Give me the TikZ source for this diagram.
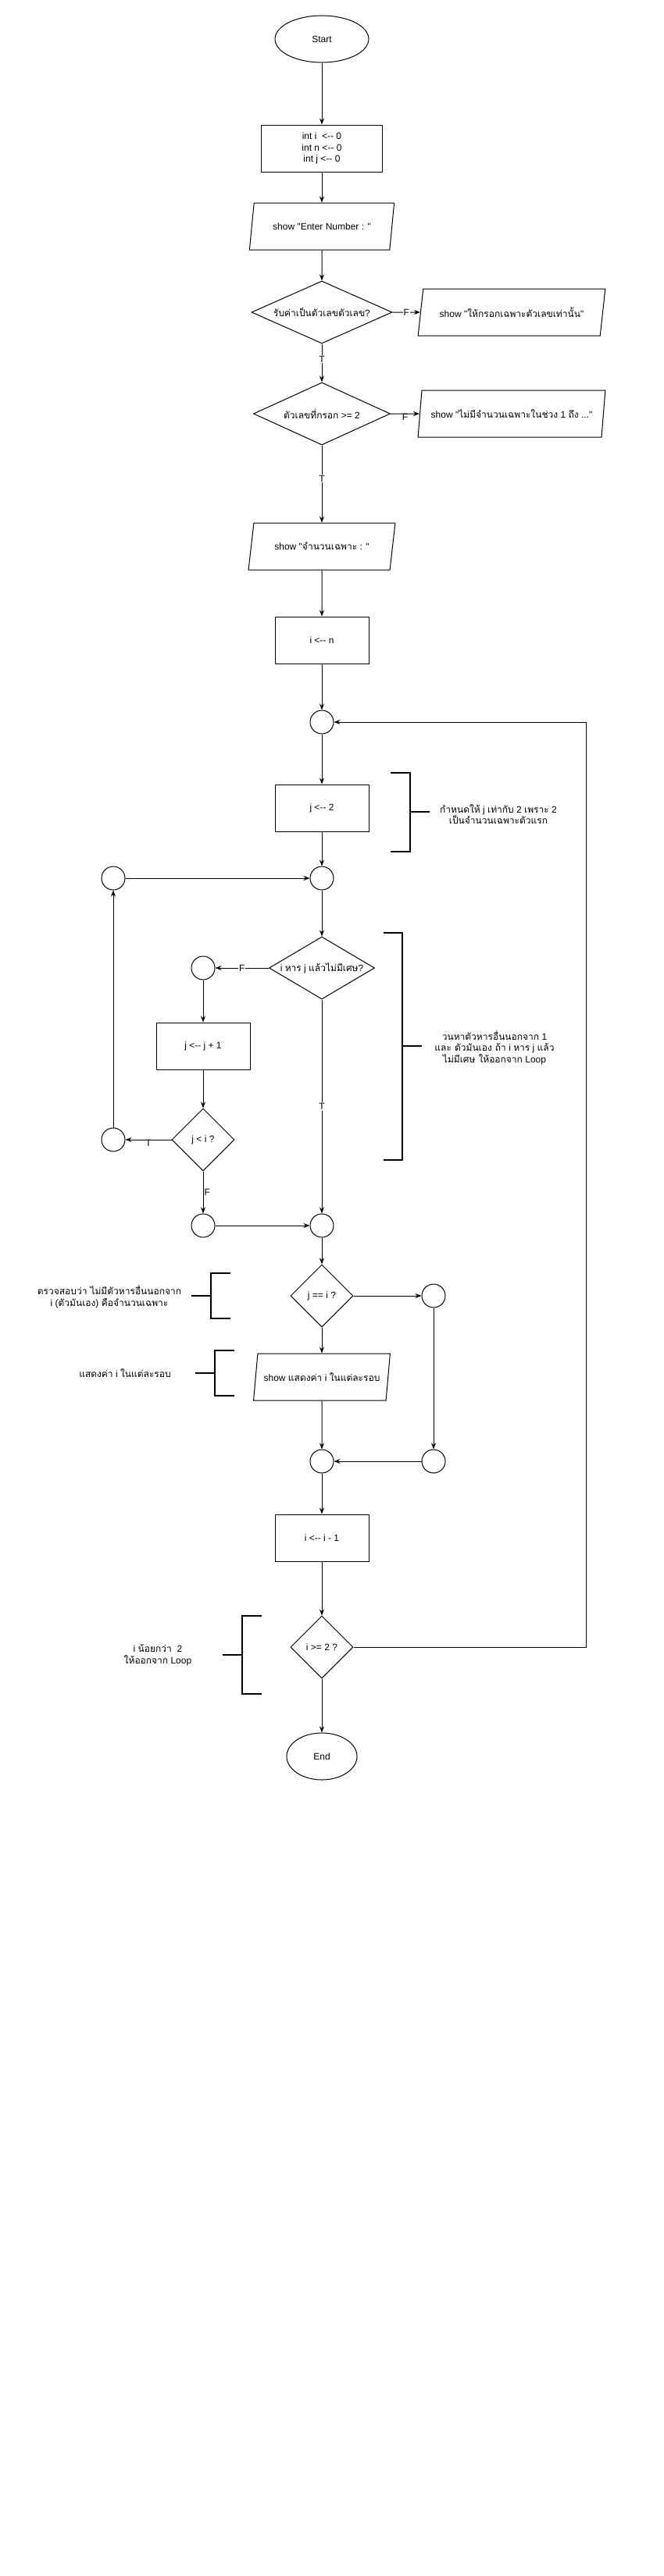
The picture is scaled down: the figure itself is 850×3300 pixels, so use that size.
\documentclass[tikz,border=0pt]{standalone}
\usepackage{fontspec}
\newfontfamily\lib{Liberation Sans}
\newfontfamily\thaif[Script=Thai]{Loma}
\newcommand\tht[1]{{\thaif #1}}
\usetikzlibrary{shapes.geometric,arrows.meta}
\begin{document}
\begin{tikzpicture}[x=1pt,y=-1pt,
  base/.style={draw=black, line width=1pt, align=center, inner sep=0pt, font=\lib\fontsize{12}{14.5}\selectfont},
  proc/.style={base, rectangle, minimum width=120pt, minimum height=60pt},
  io/.style={base, trapezium, trapezium left angle=72, trapezium right angle=108, trapezium stretches=true, minimum height=60pt, inner xsep=-20pt},
  dec/.style={base, diamond, minimum height=80pt},
  term/.style={base, ellipse, minimum height=60pt},
  conn/.style={base, circle, minimum size=30pt},
  arr/.style={draw=black, line width=1pt, -{Stealth[length=8pt,width=6pt]}},
  lbl/.style={fill=white, inner sep=1pt, font=\lib\fontsize{12}{14.5}\selectfont},
  brk/.style={draw=black, line width=2pt},
  note/.style={align=center, inner sep=0pt, font=\lib\fontsize{12}{14.5}\selectfont}
]
\useasboundingbox (0,0) rectangle (850,3300);
\fill[white] (0,0) rectangle (850,3300);

% nodes
\node[term, minimum width=120pt] (start) at (412,50) {Start};
\node[proc, minimum width=155pt] (init) at (412,190) {int i\ \ <-- 0\\int n <-- 0\\int j <-- 0};
\node[io, minimum width=186pt] (enter) at (412,290) {show "Enter Number : "};
\node[dec, minimum width=180pt, shape aspect=2.25] (d1) at (412,400) {\tht{รับค่าเป็นตัวเลขตัวเลข}?};
\node[io, minimum width=240pt] (m1) at (655,400) {show "\tht{ให้กรอกเฉพาะตัวเลขเท่านั้น}"};
\node[dec, minimum width=175pt, shape aspect=2.2] (d2) at (412,530) {\tht{ตัวเลขที่กรอก} >= 2};
\node[io, minimum width=240pt] (m2) at (655,530) {show "\tht{ไม่มีจำนวนเฉพาะในช่วง} 1 \tht{ถึง} ..."};
\node[io, minimum width=188pt] (m3) at (412,700) {show "\tht{จำนวนเฉพาะ} : "};
\node[proc] (a1) at (412,820) {i <-- n};
\node[conn] (c1) at (412,925) {};
\node[proc] (j2) at (412,1035) {j <-- 2};
\node[conn] (c2) at (412,1125) {};
\node[conn] (cL) at (145,1125) {};
\node[dec, minimum width=135pt, shape aspect=1.7] (d3) at (412,1240) {i \tht{หาร} j \tht{แล้วไม่มีเศษ}?};
\node[conn] (cF) at (260,1240) {};
\node[proc] (ji) at (260,1340) {j <-- j + 1};
\node[dec, minimum width=80pt, shape aspect=1] (d4) at (260,1460) {j < i ?};
\node[conn] (cLB) at (145,1460) {};
\node[conn] (c3) at (260,1570) {};
\node[conn] (c4) at (412,1570) {};
\node[dec, minimum width=80pt, shape aspect=1] (d5) at (412,1660) {j == i ?};
\node[conn] (cR) at (555,1660) {};
\node[io, minimum width=175pt] (sh) at (412,1764) {show \tht{แสดงค่า} i \tht{ในแต่ละรอบ}};
\node[conn] (c5) at (412,1872) {};
\node[conn] (c6) at (555,1872) {};
\node[proc] (dm1) at (412,1970) {i <-- i - 1};
\node[dec, minimum width=80pt, shape aspect=1] (d6) at (412,2110) {i >= 2 ?};
\node[term, minimum width=90pt] (end) at (412,2250) {End};

% connectors
\draw[arr] (start) -- (init);
\draw[arr] (init) -- (enter);
\draw[arr] (enter) -- (d1);
\draw[arr] (d1) -- node[lbl]{F} (m1);
\draw[arr] (d1) -- node[lbl, pos=0.4]{T} (d2);
\draw[arr] (d2) -- node[lbl, fill=none, anchor=north, inner sep=0pt, yshift=0pt]{F} (m2);
\draw[arr] (d2) -- node[lbl, pos=0.43]{T} (m3);
\draw[arr] (m3) -- (a1);
\draw[arr] (a1) -- (c1);
\draw[arr] (c1) -- (j2);
\draw[arr] (j2) -- (c2);
\draw[arr] (c2) -- (d3);
\draw[arr] (d3) -- node[lbl]{F} (cF);
\draw[arr] (cF) -- (ji);
\draw[arr] (ji) -- (d4);
\draw[arr] (d4) -- node[lbl, fill=none, anchor=north, inner sep=0pt]{T} (cLB);
\draw[arr] (cLB) -- (cL);
\draw[arr] (cL) -- (c2);
\draw[arr] (d4) -- node[lbl, fill=none, anchor=west, inner sep=0pt, xshift=1pt]{F} (c3);
\draw[arr] (c3) -- (c4);
\draw[arr] (d3) -- node[lbl]{T} (c4);
\draw[arr] (c4) -- (d5);
\draw[arr] (d5) -- (cR);
\draw[arr] (d5) -- (sh);
\draw[arr] (cR) -- (c6);
\draw[arr] (sh) -- (c5);
\draw[arr] (c6) -- (c5);
\draw[arr] (c5) -- (dm1);
\draw[arr] (dm1) -- (d6);
\draw[arr] (d6) -- (end);
\coordinate (lb1) at (750,2110);
\coordinate (lb2) at (750,925);
\draw[arr] (d6.east) -- (lb1) -- (lb2) -- (c1.east);

% annotation brackets
\draw[brk] (500,990) -- (525,990) -- (525,1091) -- (500,1091);
\draw[brk] (525,1040) -- (550,1040);
\node[note] (n1) at (638,1043) {\tht{กำหนดให้} j \tht{เท่ากับ} 2 \tht{เพราะ} 2\\\tht{เป็นจำนวนเฉพาะตัวแรก}};

\draw[brk] (491,1195) -- (514.5,1195) -- (514.5,1486) -- (491,1486);
\draw[brk] (514.5,1340) -- (540,1340);
\node[note] (n2) at (633,1342) {\tht{วนหาตัวหารอื่นนอกจาก} 1\\\tht{และ ตัวมันเอง ถ้า} i \tht{หาร} j \tht{แล้ว}\\\tht{ไม่มีเศษ ให้ออกจาก} Loop};

\draw[brk] (295,1631) -- (270,1631) -- (270,1689) -- (295,1689);
\draw[brk] (270,1660) -- (245,1660);
\node[note] (n3) at (140,1661) {\tht{ตรวจสอบว่า ไม่มีตัวหารอื่นนอกจาก}\\i (\tht{ตัวมันเอง}) \tht{คือจำนวนเฉพาะ}};

\draw[brk] (300,1730) -- (275,1730) -- (275,1788) -- (300,1788);
\draw[brk] (275,1759) -- (250,1759);
\node[note] (n4) at (160,1759) {\tht{แสดงค่า} i \tht{ในแต่ละรอบ}};

\draw[brk] (335,2070) -- (310,2070) -- (310,2170) -- (335,2170);
\draw[brk] (310,2120) -- (285,2120);
\node[note] (n5) at (202,2120) {i \tht{น้อยกว่า}\ \ 2\\\tht{ให้ออกจาก} Loop};
\end{tikzpicture}
\end{document}
